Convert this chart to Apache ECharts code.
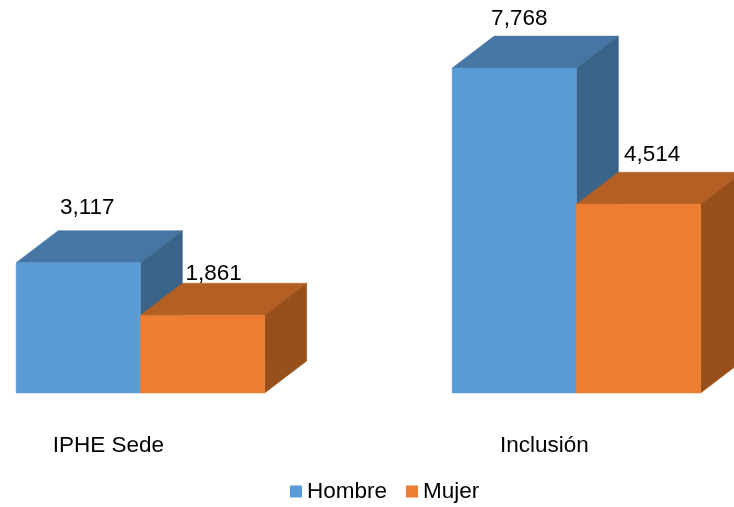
<!DOCTYPE html>
<html>
<head>
<meta charset="utf-8">
<title>IPHE</title>
<style>
html, body { margin: 0; padding: 0; background: #fff; }
#mainChart { width: 734px; height: 507px; }
</style>
<script src="https://cdn.jsdelivr.net/npm/echarts@6/dist/echarts.min.js"></script>
</head>
<body>
<div id="mainChart"></div>
<script>
const categories = ['IPHE Sede', 'Inclusión'];
const hombre = [3117, 7768];
const mujer = [1861, 4514];

const FONT = '22.5px "Liberation Sans", Arial, sans-serif';
const BAR_RATIO = 0.285;   // ancho de barra respecto a la banda
const DEPTH_X = 42;
const DEPTH_Y = 32;

// desplazamiento de cada etiqueta respecto al centro superior de la barra
const labelOffsets = {
    Hombre: [[9, -54.5], [5, -49]],
    Mujer: [[11, -41.5], [13.5, -49]]
};

const palettes = {
    Hombre: { front: '#5b9bd5', top: '#4676a3', side: '#3a6589' },
    Mujer: { front: '#ed7d31', top: '#b45f23', side: '#975019' }
};

function poly(points, fill) {
    return { type: 'polygon', shape: { points }, style: { fill, stroke: fill, lineWidth: 0.5 } };
}

// caja 3D: frente, tapa y lateral
function renderBox(name, direction) {
    return (params, api) => {
        const idx = api.value(0);
        const val = api.value(1);
        const top = api.coord([idx, val]);
        const base = api.coord([idx, 0]);
        const w = api.size([1, 0])[0] * BAR_RATIO;
        const x0 = direction < 0 ? top[0] - w : top[0];
        const x1 = x0 + w;
        const c = palettes[name];
        const off = labelOffsets[name][idx];
        return {
            type: 'group',
            children: [
                poly([[x0, top[1]], [x1, top[1]], [x1 + DEPTH_X, top[1] - DEPTH_Y], [x0 + DEPTH_X, top[1] - DEPTH_Y]], c.top),
                poly([[x1, top[1]], [x1 + DEPTH_X, top[1] - DEPTH_Y], [x1 + DEPTH_X, base[1] - DEPTH_Y], [x1, base[1]]], c.side),
                poly([[x0, top[1]], [x1, top[1]], [x1, base[1]], [x0, base[1]]], c.front),
                {
                    type: 'text',
                    style: {
                        x: (x0 + x1) / 2 + off[0],
                        y: top[1] + off[1],
                        text: val.toLocaleString('en-US'),
                        font: FONT,
                        fill: '#000',
                        align: 'center',
                        verticalAlign: 'middle'
                    }
                }
            ]
        };
    };
}

function makeSeries(name, values, direction) {
    return {
        name,
        type: 'custom',
        clip: false,
        renderItem: renderBox(name, direction),
        itemStyle: { color: palettes[name].front },
        encode: { x: 0, y: 1 },
        data: values.map((v, i) => [i, v])
    };
}

const chart = echarts.init(document.getElementById('mainChart'));
chart.setOption({
    animation: false,
    backgroundColor: '#fff',
    grid: { left: -77.6, top: 16.6, width: 872, height: 376.4, containLabel: false, outerBoundsMode: 'none' },
    xAxis: {
        type: 'category',
        data: categories,
        axisLine: { show: false },
        axisTick: { show: false },
        axisLabel: {
            interval: 0,
            margin: 41,
            padding: [0, 64, 0, 0],
            color: '#000',
            fontFamily: '"Liberation Sans", Arial, sans-serif',
            fontSize: 22.5
        }
    },
    yAxis: { type: 'value', min: 0, max: 9000, show: false, splitLine: { show: false } },
    legend: {
        data: ['Hombre', 'Mujer'],
        left: 290,
        top: 480,
        padding: 0,
        icon: 'rect',
        itemWidth: 12,
        itemHeight: 12,
        itemGap: 19,
        textStyle: {
            color: '#000',
            fontFamily: '"Liberation Sans", Arial, sans-serif',
            fontSize: 22.5,
            padding: 0
        }
    },
    series: [makeSeries('Hombre', hombre, -1), makeSeries('Mujer', mujer, 1)]
});
</script>
</body>
</html>
